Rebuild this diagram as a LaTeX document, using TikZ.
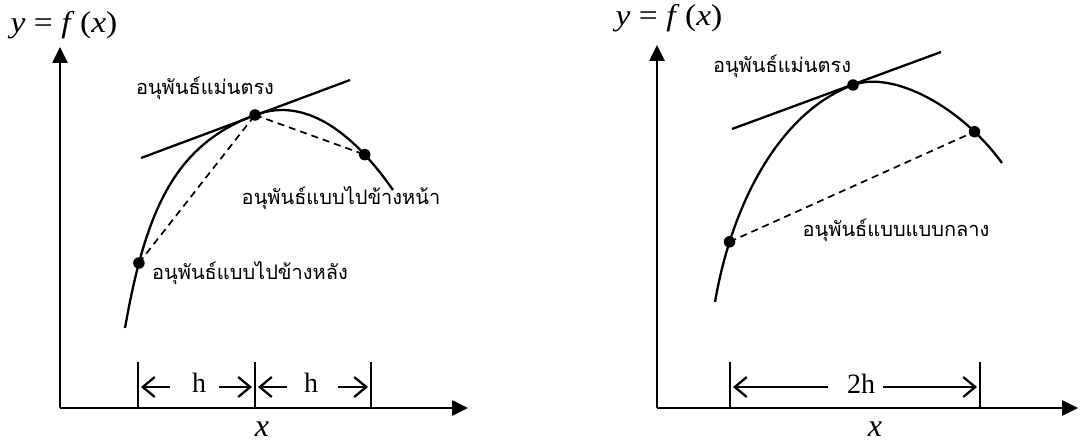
\documentclass[tikz,border=0pt]{standalone}
\usepackage{fontspec}
\setmainfont{Liberation Serif}
\newfontfamily\thaifont[Script=Thai]{Loma}
\usetikzlibrary{arrows.meta}
\begin{document}
\begin{tikzpicture}[x=1pt,y=-1pt,
  axis/.style={line width=2.6pt,-{Triangle[length=16pt,width=15pt]}},
  curve/.style={line width=2.3pt},
  tang/.style={line width=2.3pt},
  sec/.style={line width=1.7pt,dash pattern=on 7pt off 5pt},
  dot/.style={circle,fill,inner sep=0pt,minimum size=11.5pt},
  tickline/.style={line width=1.2pt},
  dimarrow/.style={line width=2.3pt,-{Straight Barb[length=12pt,width=20pt]}},
  thai/.style={font=\thaifont\fontsize{20}{23}\selectfont,inner sep=0pt},
  lab/.style={font=\fontsize{30}{32}\selectfont,inner sep=0pt},
  xlab/.style={font=\fontsize{32}{34}\selectfont\itshape,inner sep=0pt},
  hlab/.style={font=\fontsize{28}{30}\selectfont,inner sep=0pt}]
\useasboundingbox (0,0) rectangle (1080,444);

% ---------------- left panel ----------------
\coordinate (LO) at (60,408);
\coordinate (LY) at (60,47);
\coordinate (LX) at (468,408);
\draw[axis] (LO) -- (LY);
\draw[axis] (LO) -- (LX);
\node[lab] (Lfx) at (64,25) {\scalebox{1.12}[1]{\textit{y} = \textit{f}\,(\textit{x})}};
\node[xlab] (Lx) at (262,429) {x};

\coordinate (LS) at (125,328);
\coordinate (LC) at (255,115);
\coordinate (LE) at (393,190);
\draw[curve] (LS) .. controls (146,209) and (175,145) .. (LC) coordinate[pos=0.2] (LBc)
  .. controls (310,94.5) and (358.8,140.8) .. (LE) coordinate[pos=0.75] (LFc);
\coordinate (LT1) at (141,158);
\coordinate (LT2) at (350,80);
\draw[tang] (LT1) -- (LT2);
\node[dot] (LB) at (LBc) {};
\node[dot] (LCd) at (LC) {};
\node[dot] (LF) at (LFc) {};
\draw[sec] (LB.center) -- (LCd.center);
\draw[sec] (LCd.center) -- (LF.center);

\node[thai] (Lexact) at (205,88) {อนุพันธ์แม่นตรง};
\node[thai] (Lfwd) at (341,198) {อนุพันธ์แบบไปข้างหน้า};
\node[thai] (Lbwd) at (250,273) {อนุพันธ์แบบไปข้างหลัง};

\coordinate (Lk1a) at (138,362); \coordinate (Lk1b) at (138,408);
\coordinate (Lk2a) at (255,362); \coordinate (Lk2b) at (255,408);
\coordinate (Lk3a) at (371,362); \coordinate (Lk3b) at (371,408);
\draw[tickline] (Lk1a) -- (Lk1b);
\draw[tickline] (Lk2a) -- (Lk2b);
\draw[tickline] (Lk3a) -- (Lk3b);
\coordinate (La1s) at (170,387); \coordinate (La1e) at (141,387);
\coordinate (La2s) at (219,387); \coordinate (La2e) at (252,387);
\coordinate (La3s) at (287,387); \coordinate (La3e) at (258,387);
\coordinate (La4s) at (338,387); \coordinate (La4e) at (368,387);
\draw[dimarrow] (La1s) -- (La1e);
\draw[dimarrow] (La2s) -- (La2e);
\draw[dimarrow] (La3s) -- (La3e);
\draw[dimarrow] (La4s) -- (La4e);
\node[hlab] (Lh1) at (199,383) {h};
\node[hlab] (Lh2) at (311,383) {h};

% ---------------- right panel ----------------
\coordinate (RO) at (657,408);
\coordinate (RY) at (657,45);
\coordinate (RX) at (1078,408);
\draw[axis] (RO) -- (RY);
\draw[axis] (RO) -- (RX);
\node[lab] (Rfx) at (669,18) {\scalebox{1.12}[1]{\textit{y} = \textit{f}\,(\textit{x})}};
\node[xlab] (Rx) at (875,429) {x};

\coordinate (RS) at (715,302);
\coordinate (RC) at (853,85);
\coordinate (RE) at (1002,163);
\draw[curve] (RS) .. controls (733,197.6) and (783,110.8) .. (RC) coordinate[pos=0.2] (RBc)
  .. controls (893,70.3) and (960.7,106.3) .. (RE) coordinate[pos=0.8] (RFc);
\coordinate (RT1) at (732,129);
\coordinate (RT2) at (941,52);
\draw[tang] (RT1) -- (RT2);
\node[dot] (RB) at (RBc) {};
\node[dot] (RCd) at (RC) {};
\node[dot] (RF) at (RFc) {};
\draw[sec] (RB.center) -- (RF.center);

\node[thai] (Rexact) at (782,66) {อนุพันธ์แม่นตรง};
\node[thai] (Rcen) at (896,230) {อนุพันธ์แบบแบบกลาง};

\coordinate (Rk1a) at (730,362); \coordinate (Rk1b) at (730,408);
\coordinate (Rk2a) at (980,362); \coordinate (Rk2b) at (980,408);
\draw[tickline] (Rk1a) -- (Rk1b);
\draw[tickline] (Rk2a) -- (Rk2b);
\coordinate (Ra1s) at (828,387); \coordinate (Ra1e) at (733,387);
\coordinate (Ra2s) at (883,387); \coordinate (Ra2e) at (977,387);
\draw[dimarrow] (Ra1s) -- (Ra1e);
\draw[dimarrow] (Ra2s) -- (Ra2e);
\node[hlab] (R2h) at (861,384) {2h};
\end{tikzpicture}
\end{document}
